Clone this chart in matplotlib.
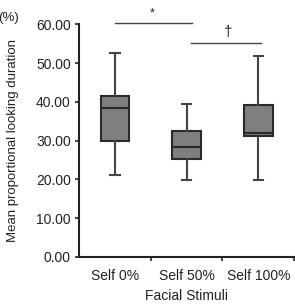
import matplotlib
matplotlib.use("Agg")
import matplotlib.pyplot as plt

plt.rcParams['font.family'] = ['Liberation Sans', 'DejaVu Sans']

categories = ["Self 0%", "Self 50%", "Self 100%"]
whisker_low = [21.1, 19.8, 19.8]
q1 = [29.9, 25.2, 31.2]
median = [38.3, 28.4, 32.0]
q3 = [41.6, 32.6, 39.1]
whisker_high = [52.6, 39.5, 51.9]
y_ticks = [0, 10, 20, 30, 40, 50, 60]

stats = []
for i, name in enumerate(categories):
    stats.append({"label": name, "whislo": whisker_low[i], "q1": q1[i],
                  "med": median[i], "q3": q3[i], "whishi": whisker_high[i],
                  "fliers": []})

fig = plt.figure(figsize=(2.95, 3.04), dpi=100)
ax = fig.add_axes([0.268, 0.155, 0.729, 0.765])

edge = "#2a2a2a"
ax.bxp(stats, positions=range(len(categories)), widths=0.4, patch_artist=True,
       showfliers=False, capwidths=0.13,
       boxprops=dict(facecolor="#7f7f7f", edgecolor=edge, linewidth=1.5),
       medianprops=dict(color=edge, linewidth=1.5),
       whiskerprops=dict(color="#444444", linewidth=1.5),
       capprops=dict(color="#444444", linewidth=1.5))

ax.set_xlim(-0.5, 2.5)
ax.set_ylim(0, 60)
ax.set_yticks(y_ticks)
ax.set_yticklabels([f"{v:.2f}" for v in y_ticks], fontsize=10, color="#222222")
ax.set_xticks(range(len(categories)))
ax.set_xticklabels(categories, fontsize=10, color="#222222")
ax.set_xticks([0.5, 1.5, 2.5], minor=True)
ax.tick_params(axis="x", which="major", length=0, pad=9)
ax.tick_params(axis="x", which="minor", length=3, width=1.2, color="#222222")
ax.tick_params(axis="y", length=3, width=1.2, color="#222222", pad=3)

for side in ["top", "right"]:
    ax.spines[side].set_visible(False)
for side in ["left", "bottom"]:
    ax.spines[side].set_linewidth(1.5)
    ax.spines[side].set_color("#222222")

ax.set_xlabel("Facial Stimuli", fontsize=10, color="#222222", labelpad=4)
ax.set_ylabel("Mean proportional looking duration", fontsize=9.5, color="#222222", labelpad=12)
fig.text(-0.005, 0.94, "(%)", fontsize=9.5, color="#222222", ha="left", va="center")

# significance bars
ax.plot([0, 1.08], [60.4, 60.4], color="#444444", lw=1, clip_on=False)
ax.text(0.52, 61.3, "*", ha="center", va="bottom", fontsize=9, color="#222222")
ax.plot([1.06, 2.04], [55.2, 55.2], color="#444444", lw=1, clip_on=False)
ax.text(1.58, 56.3, "†", ha="center", va="bottom", fontsize=11, color="#222222")

fig.savefig("out.png", dpi=100)
